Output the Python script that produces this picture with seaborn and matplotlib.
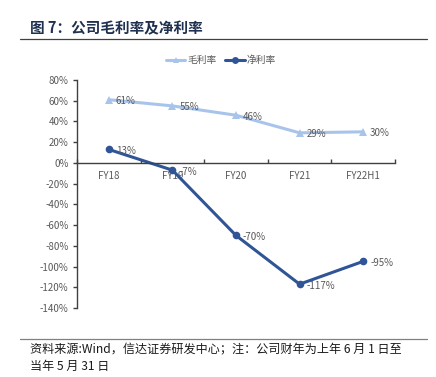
import numpy as np
import pandas as pd
import matplotlib
matplotlib.use('Agg')
import matplotlib.pyplot as plt
import seaborn as sns
from matplotlib.lines import Line2D
from matplotlib.ticker import FixedLocator

sns.set_style('white')
plt.rcParams['font.family'] = ['Noto Sans CJK SC', 'DejaVu Sans']

# data
periods = ['FY18', 'FY19', 'FY20', 'FY21', 'FY22H1']
gross_margin = [61, 55, 46, 29, 30]
net_margin = [13, -7, -70, -117, -95]
series_names = ['毛利率', '净利率']

df = pd.DataFrame({
    'period': periods * 2,
    'x': list(range(len(periods))) * 2,
    'value': gross_margin + net_margin,
    'series': [series_names[0]] * len(periods) + [series_names[1]] * len(periods),
})

colors = {'毛利率': '#a9c4eb', '净利率': '#2f5597'}
markers = {'毛利率': '^', '净利率': 'o'}

fig = plt.figure(figsize=(4.36, 3.77), dpi=100)
ax = fig.add_axes([77 / 436, 1 - 308 / 377, 318 / 436, 228 / 377])

sns.lineplot(data=df, x='x', y='value', hue='series', style='series',
             palette=colors, markers=markers, dashes=False, linewidth=2.2,
             markersize=5.5, markeredgewidth=0, ax=ax, legend=False)

# data labels
for name, vals in zip(series_names, [gross_margin, net_margin]):
    for i, v in enumerate(vals):
        ax.annotate(f'{v}%', (i, v), xytext=(5, -1), textcoords='offset points',
                    ha='left', va='center', fontsize=7, color='#595959')

ax.set_xlim(-0.5, len(periods) - 0.5)
ax.set_ylim(-140, 80)
ax.set_yticks(np.arange(-140, 81, 20))
ax.set_yticklabels([f'{t}%' for t in range(-140, 81, 20)])
ax.set_xticks(range(len(periods)))
ax.set_xticklabels(periods)
ax.xaxis.set_minor_locator(FixedLocator(np.arange(-0.5, len(periods), 1)))
ax.set_xlabel('')
ax.set_ylabel('')

for s in ['top', 'right']:
    ax.spines[s].set_visible(False)
ax.spines['left'].set_color('#404040')
ax.spines['left'].set_linewidth(1.0)
ax.spines['bottom'].set_position(('data', 0))
ax.spines['bottom'].set_color('#404040')
ax.spines['bottom'].set_linewidth(1.0)

ax.tick_params(axis='y', which='major', direction='out', length=3, width=1,
               color='#404040', labelsize=7, labelcolor='#595959', pad=3, left=True)
ax.tick_params(axis='x', which='major', length=0, labelsize=7,
               labelcolor='#595959', pad=6)
ax.tick_params(axis='x', which='minor', direction='in', length=3, width=1,
               color='#404040', bottom=True)

handles = [Line2D([0], [0], color=colors[n], marker=markers[n], lw=2.2,
                  markersize=5, markeredgewidth=0) for n in series_names]
fig.legend(handles, series_names, loc='center', bbox_to_anchor=(0.507, 1 - 60 / 377),
           ncol=2, frameon=False, fontsize=7, handlelength=2.0, columnspacing=0.9,
           handletextpad=0.2, labelcolor='#595959')

# title and separators
fig.text(30 / 436, 1 - 28 / 377, '图 7：公司毛利率及净利率', fontsize=10.5,
         fontweight='bold', color='#1f3050', va='center', ha='left')
fig.add_artist(Line2D([20 / 436, 427 / 436], [1 - 39 / 377, 1 - 39 / 377],
                      color='#404040', lw=0.9))
fig.add_artist(Line2D([20 / 436, 427 / 436], [1 - 339 / 377, 1 - 339 / 377],
                      color='#808080', lw=0.9))
fig.text(30 / 436, 1 - 350 / 377, '资料来源:Wind，信达证券研发中心；注：公司财年为上年 6 月 1 日至',
         fontsize=8.7, style='italic', color='#1a1a1a', va='center', ha='left')
fig.text(30 / 436, 1 - 366 / 377, '当年 5 月 31 日',
         fontsize=8.7, style='italic', color='#1a1a1a', va='center', ha='left')

fig.savefig('out.png', dpi=100)
